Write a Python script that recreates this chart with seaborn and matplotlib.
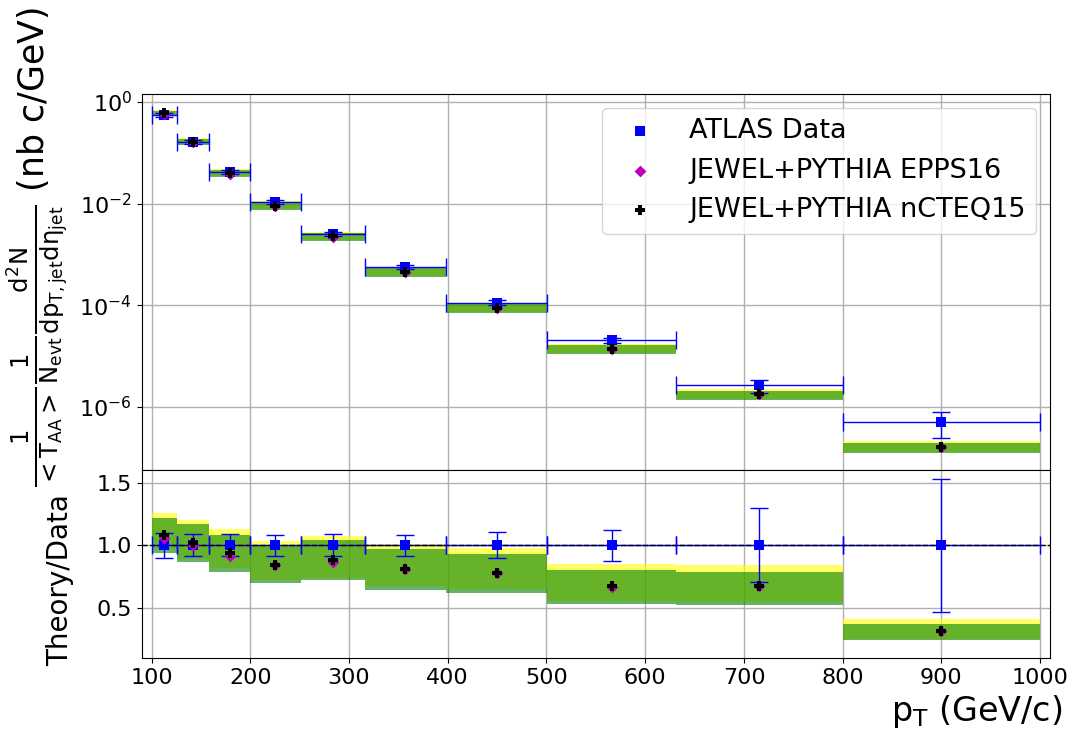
import numpy as np
import pandas as pd
import matplotlib
matplotlib.use("Agg")
import matplotlib.pyplot as plt
from matplotlib.ticker import NullLocator
import seaborn as sns

plt.rcParams['font.family'] = ['DejaVu Sans']
plt.rcParams['mathtext.default'] = 'regular'

# ---------------- data ----------------
bin_edges = [100, 126, 158, 200, 251, 316, 398, 501, 631, 800, 1000]
bin_centers = [113, 142, 179, 225.5, 283.5, 357, 449.5, 566, 715.5, 900]
atlas_yield = [0.55, 0.16, 0.042, 0.0107, 0.00257, 5.65e-4, 1.13e-4, 2.05e-5, 2.66e-6, 5.2e-7]
atlas_rel_err = [0.10, 0.09, 0.087, 0.085, 0.088, 0.085, 0.106, 0.125, 0.293, 0.53]
ratio_epps16 = [1.055, 1.005, 0.912, 0.84, 0.865, 0.81, 0.775, 0.67, 0.675, 0.315]
ratio_ncteq15 = [1.08, 1.02, 0.935, 0.845, 0.88, 0.814, 0.78, 0.672, 0.672, 0.312]
band_epps16_hi = [1.254, 1.205, 1.13, 1.032, 1.07, 1.013, 0.974, 0.851, 0.846, 0.41]
band_epps16_lo = [0.966, 0.893, 0.815, 0.726, 0.739, 0.678, 0.651, 0.553, 0.545, 0.25]
band_ncteq15_hi = [1.22, 1.17, 1.083, 1.003, 1.038, 0.97, 0.931, 0.80, 0.79, 0.374]
band_ncteq15_lo = [0.935, 0.864, 0.787, 0.70, 0.72, 0.645, 0.619, 0.532, 0.52, 0.245]
legend_labels = ['ATLAS Data', 'JEWEL+PYTHIA EPPS16', 'JEWEL+PYTHIA nCTEQ15']
x_ticks = [100, 200, 300, 400, 500, 600, 700, 800, 900, 1000]
top_yticks = [1e0, 1e-2, 1e-4, 1e-6]
ratio_yticks = [0.5, 1.0, 1.5]

edges = np.array(bin_edges, dtype=float)
centers = np.array(bin_centers, dtype=float)
widths = np.diff(edges)
xerr = [centers - edges[:-1], edges[1:] - centers]
data = np.array(atlas_yield)
rel = np.array(atlas_rel_err)

fig = plt.figure(figsize=(10.73, 7.33), dpi=100)
ax1 = fig.add_axes([0.132, 0.3588, 0.8466, 0.513])
ax2 = fig.add_axes([0.132, 0.1023, 0.8466, 0.2565], sharex=ax1)
ax1.set_yscale('log')

for ax, scale, with_label in ((ax1, data, True), (ax2, np.ones_like(data), False)):
    ax.set_axisbelow(True)
    ax.grid(True, color='#b0b0b0', lw=1.0)
    ehi = np.array(band_epps16_hi) * scale
    elo = np.array(band_epps16_lo) * scale
    nhi = np.array(band_ncteq15_hi) * scale
    nlo = np.array(band_ncteq15_lo) * scale
    ax.bar(edges[:-1], ehi - elo, bottom=elo, width=widths, align='edge',
           color='yellow', alpha=0.6, lw=0, zorder=1.6)
    ax.bar(edges[:-1], nhi - nlo, bottom=nlo, width=widths, align='edge',
           color='green', alpha=0.6, lw=0, zorder=1.7)
    ax.errorbar(centers, scale, yerr=rel * scale, xerr=xerr, fmt='none',
                ecolor='blue', elinewidth=1, capsize=6.5, capthick=1, zorder=2.5)
    if ax is ax2:
        ax.axhline(1.0, color='black', ls='--', lw=1, zorder=2.6)
    df = pd.DataFrame({'pt': centers, 'data': scale,
                       'epps': np.array(ratio_epps16) * scale,
                       'ncteq': np.array(ratio_ncteq15) * scale})
    sns.scatterplot(data=df, x='pt', y='data', marker='s', color='blue', s=42,
                    linewidth=0, ax=ax, zorder=3,
                    label=legend_labels[0] if with_label else None)
    sns.scatterplot(data=df, x='pt', y='epps', marker='D', color='m', s=36,
                    linewidth=0, ax=ax, zorder=3.1,
                    label=legend_labels[1] if with_label else None)
    sns.scatterplot(data=df, x='pt', y='ncteq', marker='P', color='black', s=56,
                    linewidth=0, ax=ax, zorder=3.2,
                    label=legend_labels[2] if with_label else None)

# top panel
ax1.set_xlim(90, 1010)
ax1.set_ylim(5.8e-8, 1.42)
ax1.set_yticks(top_yticks)
ax1.yaxis.set_minor_locator(NullLocator())
ax1.tick_params(axis='x', which='both', length=0, labelbottom=False)
ax1.tick_params(axis='y', labelsize=16)
ax1.set_xlabel('')
ax1.set_ylabel(r'$\frac{1}{<T_{AA}>}\frac{1}{N_{evt}}\frac{d^2N}{dp_{T,jet}d\eta_{jet}}$ (nb c/GeV)',
               fontsize=25)
ax1.yaxis.set_label_coords(-0.078, 0.592)
ax1.legend(loc='upper right', fontsize=19.5)

# ratio panel
if ax2.get_legend() is not None:
    ax2.get_legend().remove()
ax2.set_ylim(0.1, 1.6)
ax2.set_yticks(ratio_yticks)
ax2.set_xticks(x_ticks)
ax2.tick_params(axis='both', labelsize=16)
ax2.set_ylabel('Theory/Data', fontsize=20)
ax2.yaxis.set_label_coords(-0.074, 0.415)
ax2.set_xlabel(r'p$_T$ (GeV/c)', fontsize=24, x=1.013, ha='right')

fig.savefig('out.png', dpi=100)
